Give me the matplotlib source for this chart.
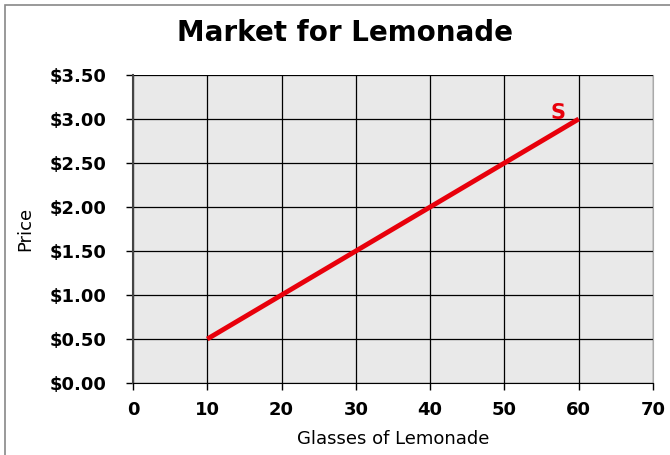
import matplotlib.pyplot as plt
from matplotlib.patches import Rectangle

# ---- data ----
quantity = [10, 60]
price = [0.5, 3.0]
x_ticks = [0, 10, 20, 30, 40, 50, 60, 70]
y_ticks = [0.0, 0.5, 1.0, 1.5, 2.0, 2.5, 3.0, 3.5]
y_labels = ["$0.00", "$0.50", "$1.00", "$1.50", "$2.00", "$2.50", "$3.00", "$3.50"]

fig = plt.figure(figsize=(6.7, 4.55), dpi=100)
fig.patch.set_facecolor("white")

# outer frame (left/top visible, right/bottom cut off)
fig.patches.append(Rectangle((5 / 670, -0.1), 1.1, 1 - 5 / 455 + 0.1,
                             transform=fig.transFigure, fill=False,
                             edgecolor="#888888", linewidth=1.2))

ax = fig.add_axes([133 / 670, 1 - 383 / 455, 520 / 670, 308 / 455])
ax.set_facecolor("#e9e9e9")

ax.plot(quantity, price, color="#e8000b", linewidth=3.5, solid_capstyle="butt", zorder=3)
ax.text(57.2, 2.96, "S", color="#e8000b", fontsize=15, fontweight="bold",
        ha="center", va="bottom", zorder=4)

ax.set_xlim(0, 70)
ax.set_ylim(0, 3.5)
ax.set_xticks(x_ticks)
ax.set_yticks(y_ticks)
ax.set_yticklabels(y_labels)
ax.grid(True, color="black", linewidth=0.9)
ax.set_axisbelow(True)

for lbl in ax.get_xticklabels() + ax.get_yticklabels():
    lbl.set_fontweight("bold")
    lbl.set_fontsize(13)
ax.tick_params(direction="out", length=5, width=1, color="black")
ax.tick_params(axis="y", pad=14)
ax.tick_params(axis="x", pad=8)

ax.spines["left"].set_color("#444444")
ax.spines["left"].set_linewidth(1.5)
ax.spines["bottom"].set_color("black")
ax.spines["top"].set_visible(False)
ax.spines["right"].set_color("#aaaaaa")

ax.set_xlabel("Glasses of Lemonade", fontsize=13, labelpad=8)
ax.set_ylabel("Price", fontsize=13)
ax.yaxis.set_label_coords((34 - 133) / 520, 0.5)

fig.text(345 / 670, 1 - 33 / 455, "Market for Lemonade", fontsize=20,
         fontweight="bold", ha="center", va="center")

fig.savefig("out.png", dpi=100)
